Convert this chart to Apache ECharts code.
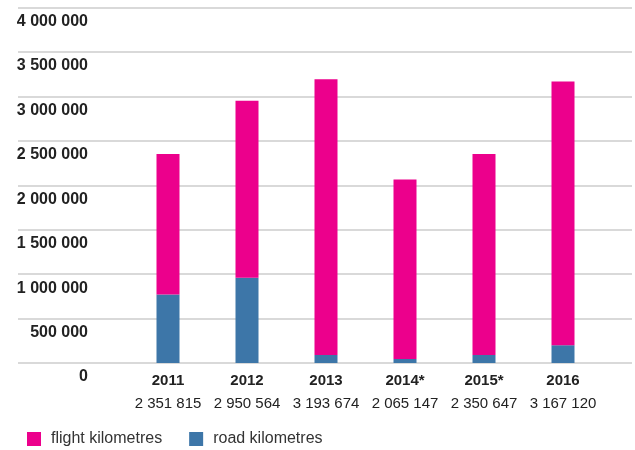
<!DOCTYPE html>
<html>
<head>
<meta charset="utf-8">
<script src="https://cdn.jsdelivr.net/npm/echarts@6/dist/echarts.min.js"></script>
<style>
  html, body { margin: 0; padding: 0; background: #fff; }
  #chart { width: 635px; height: 450px; }
</style>
</head>
<body>
<div id="chart"></div>
<script>
const years = ['2011', '2012', '2013', '2014*', '2015*', '2016'];
const totals = ['2 351 815', '2 950 564', '3 193 674', '2 065 147', '2 350 647', '3 167 120'];
// road at the bottom, flight stacked on top
const roadKm = [770000, 960000, 90000, 45000, 90000, 200000];
const flightKm = [1581815, 1990564, 3103674, 2020147, 2260647, 2967120];

const FONT = "'Liberation Sans', Arial, sans-serif";
const PINK = '#ec008c';
const BLUE = '#3d76a8';

const chart = echarts.init(document.getElementById('chart'));

chart.setOption({
  animation: false,
  textStyle: { fontFamily: FONT },
  grid: [
    { left: 18, right: 3, top: 7.5, bottom: 87 },
    { left: 128.5, right: 32.5, top: 7.5, bottom: 87 }
  ],
  legend: {
    left: 27,
    top: 431,
    padding: 0,
    itemWidth: 14,
    itemHeight: 14,
    itemGap: 27,
    icon: 'rect',
    textStyle: { fontFamily: FONT, fontSize: 16, color: '#333', padding: [0, 0, 0, 5] },
    data: ['flight kilometres', 'road kilometres']
  },
  xAxis: [
    { gridIndex: 0, type: 'value', show: false, min: 0, max: 1 },
    {
      gridIndex: 1,
      type: 'category',
      data: years,
      axisLine: { show: false },
      axisTick: { show: false },
      axisLabel: {
        interval: 0,
        margin: 6,
        formatter: function (v, i) {
          return '{y|' + v + '}\n{v|' + totals[i] + '}';
        },
        rich: {
          y: { fontFamily: FONT, fontSize: 15, fontWeight: 'bold', color: '#222', lineHeight: 23 },
          v: { fontFamily: FONT, fontSize: 15, color: '#222', lineHeight: 23 }
        }
      }
    }
  ],
  yAxis: [
    {
      gridIndex: 0,
      type: 'value',
      min: 0,
      max: 4000000,
      interval: 500000,
      axisLine: { show: false },
      axisTick: { show: false },
      splitLine: { lineStyle: { color: '#cccccc', width: 1.5 } },
      axisLabel: {
        inside: true,
        margin: 70,
        align: 'right',
        verticalAlign: 'top',
        padding: [6, 0, 0, 0],
        fontFamily: FONT,
        fontSize: 16,
        fontWeight: 'bold',
        color: '#222',
        formatter: function (v) {
          return String(v).replace(/\B(?=(\d{3})+(?!\d))/g, ' ');
        }
      }
    },
    { gridIndex: 1, type: 'value', min: 0, max: 4000000, show: false, splitLine: { show: false } }
  ],
  series: [
    {
      name: 'road kilometres',
      type: 'bar',
      xAxisIndex: 1,
      yAxisIndex: 1,
      stack: 'km',
      barWidth: 23,
      itemStyle: { color: BLUE },
      data: roadKm
    },
    {
      name: 'flight kilometres',
      type: 'bar',
      xAxisIndex: 1,
      yAxisIndex: 1,
      stack: 'km',
      barWidth: 23,
      itemStyle: { color: PINK },
      data: flightKm
    }
  ]
});
</script>
</body>
</html>
